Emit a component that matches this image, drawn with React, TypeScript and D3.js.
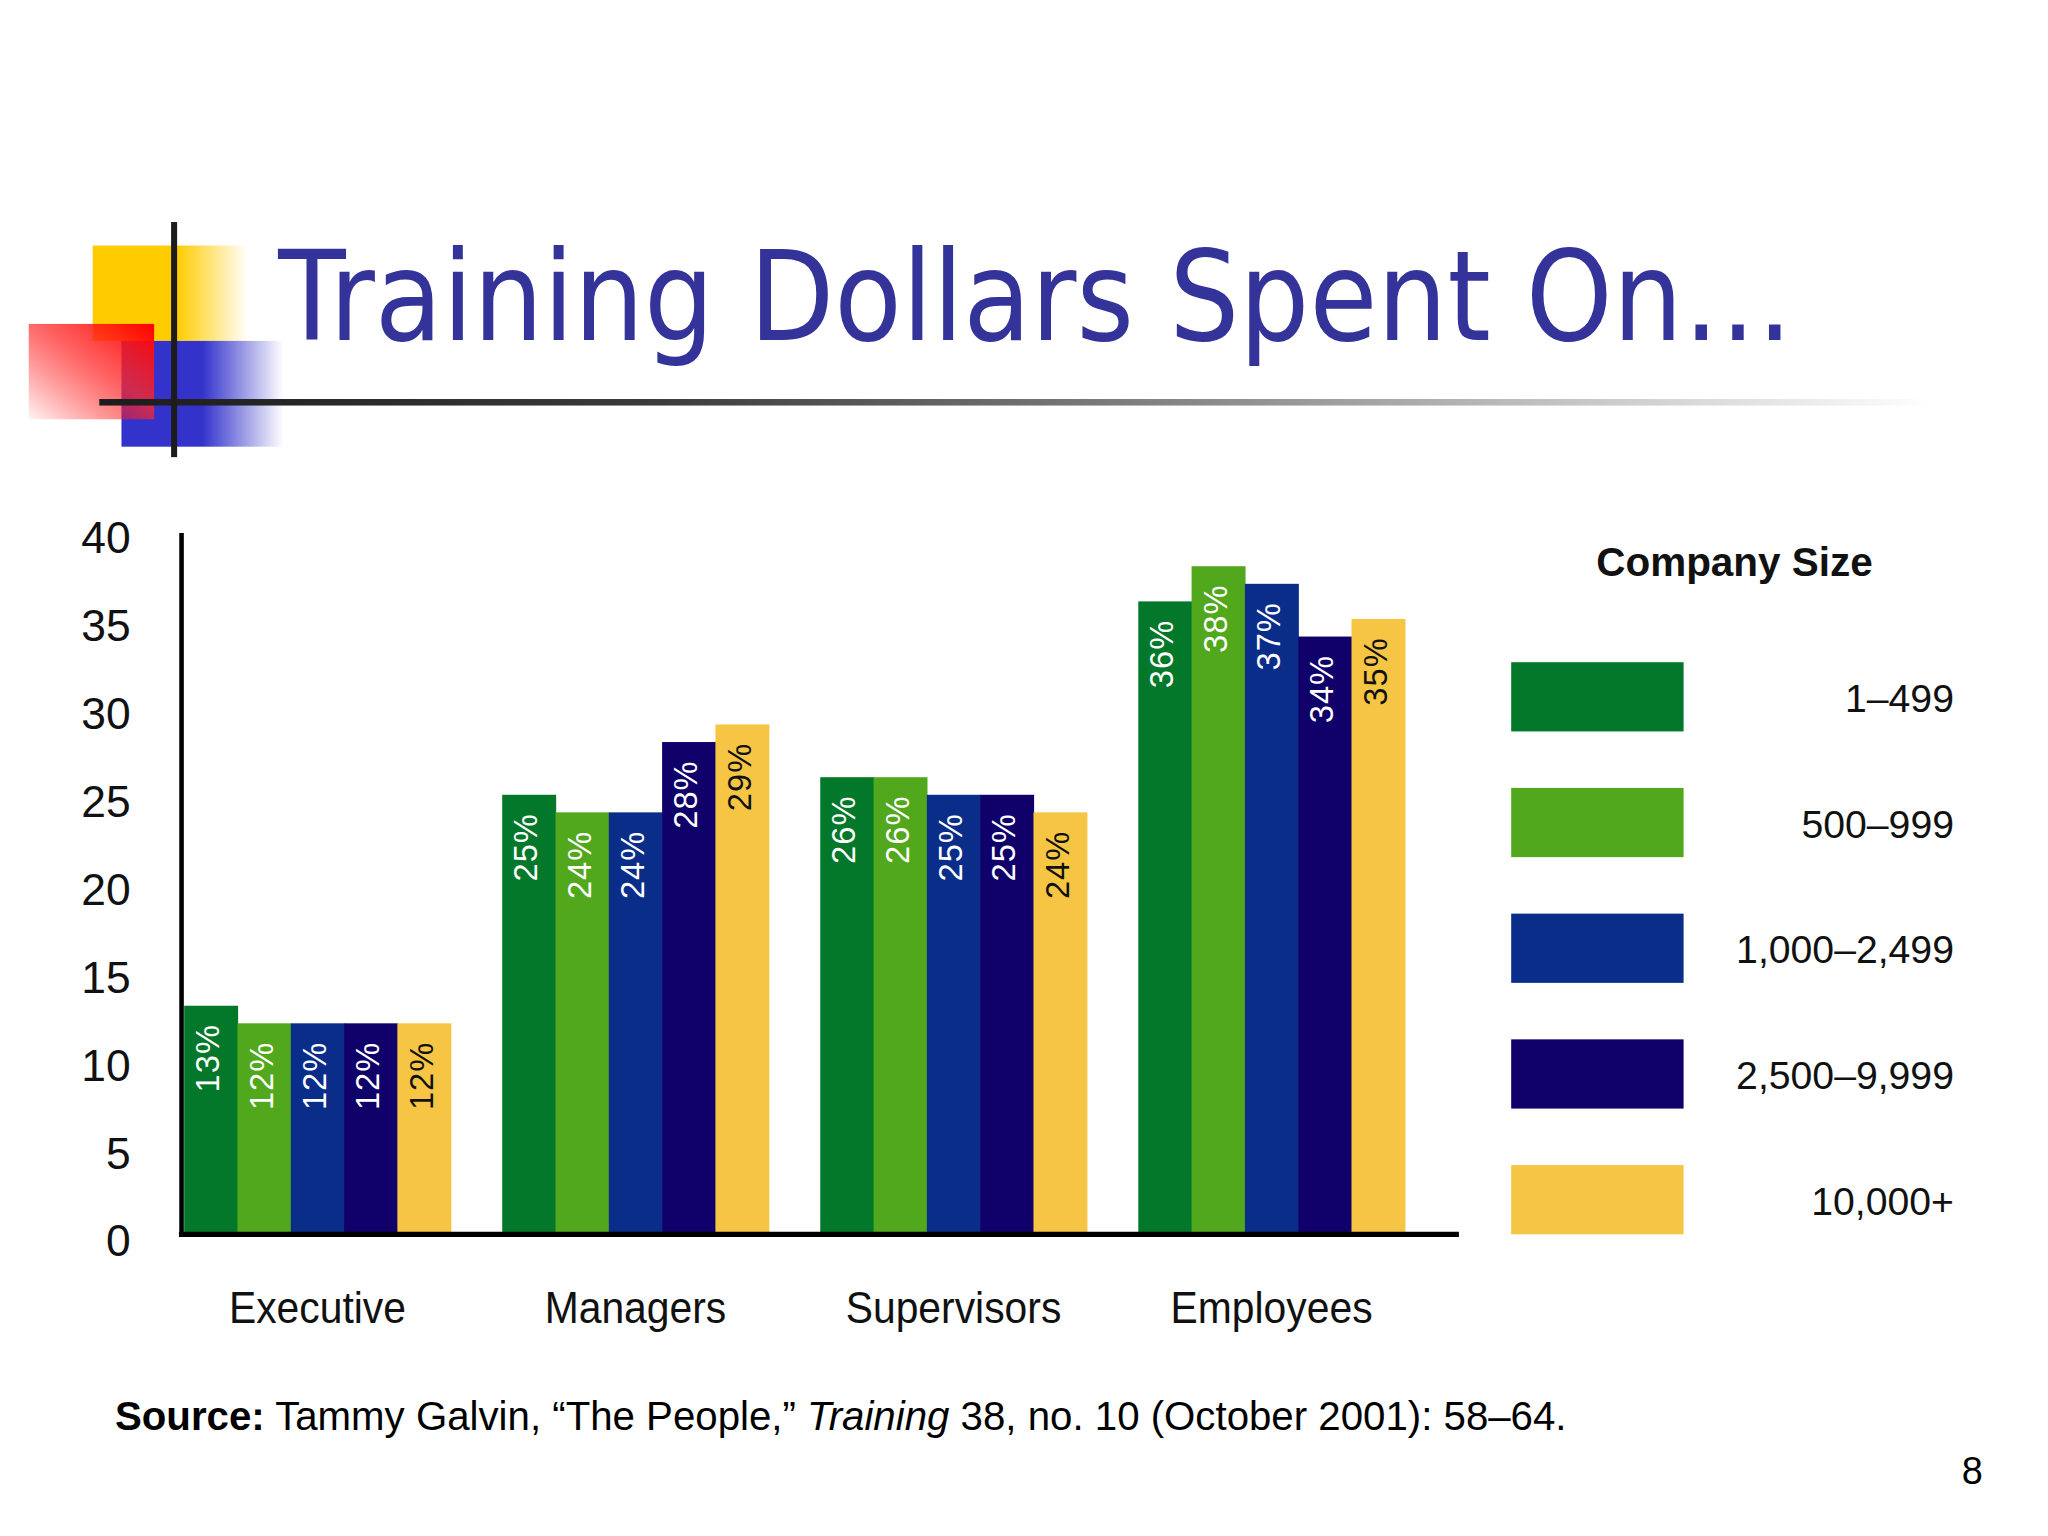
import React, { useEffect, useRef } from "react";
import * as d3 from "d3";

// categories on the x axis
const categories = ["Executive", "Managers", "Supervisors", "Employees"];

// company size groups (legend)
const sizes = ["1–499", "500–999", "1,000–2,499", "2,500–9,999", "10,000+"];

// percent of training dollars, one array per company size
const size1to499 = [13, 25, 26, 36];
const size500to999 = [12, 24, 26, 38];
const size1000to2499 = [12, 24, 25, 37];
const size2500to9999 = [12, 28, 25, 34];
const size10000plus = [12, 29, 24, 35];

const yTicks = [0, 5, 10, 15, 20, 25, 30, 35, 40];

const colors = ["#03782a", "#52a81d", "#0b2d8a", "#0f006a", "#f5c543"];
const labelColors = ["#ffffff", "#ffffff", "#ffffff", "#ffffff", "#111111"];

const Chart = () => {
  const chartRef = useRef(null);

  useEffect(() => {
    if (!chartRef.current) return;
    const svg = d3.select(chartRef.current);
    svg.selectAll("*").remove();

    const series = [size1to499, size500to999, size1000to2499, size2500to9999, size10000plus];

    // ---- defs for the slide decoration
    const defs = svg.append("defs");
    const yellow = defs.append("linearGradient").attr("id", "yel").attr("x1", 0).attr("x2", 1).attr("y1", 0).attr("y2", 0);
    yellow.append("stop").attr("offset", 0).attr("stop-color", "#ffcc00");
    yellow.append("stop").attr("offset", 0.54).attr("stop-color", "#ffcc00");
    yellow.append("stop").attr("offset", 1).attr("stop-color", "#ffcc00").attr("stop-opacity", 0);

    const blue = defs.append("linearGradient").attr("id", "blu").attr("x1", 0).attr("x2", 1).attr("y1", 0).attr("y2", 0);
    blue.append("stop").attr("offset", 0).attr("stop-color", "#3333cc");
    blue.append("stop").attr("offset", 0.5).attr("stop-color", "#3333cc");
    blue.append("stop").attr("offset", 1).attr("stop-color", "#3333cc").attr("stop-opacity", 0);

    const red = defs.append("linearGradient").attr("id", "red").attr("x1", 1).attr("y1", 0).attr("x2", 0).attr("y2", 1);
    red.append("stop").attr("offset", 0).attr("stop-color", "#ff0000");
    red.append("stop").attr("offset", 0.45).attr("stop-color", "#ff2a2a").attr("stop-opacity", 0.75);
    red.append("stop").attr("offset", 1).attr("stop-color", "#ff0000").attr("stop-opacity", 0.04);

    const rule = defs.append("linearGradient").attr("id", "rule").attr("x1", 0).attr("x2", 1).attr("y1", 0).attr("y2", 0);
    rule.append("stop").attr("offset", 0).attr("stop-color", "#1c1c1c");
    rule.append("stop").attr("offset", 0.3).attr("stop-color", "#3a3a3a");
    rule.append("stop").attr("offset", 0.55).attr("stop-color", "#7a7a7a");
    rule.append("stop").attr("offset", 0.8).attr("stop-color", "#c4c4c4");
    rule.append("stop").attr("offset", 1).attr("stop-color", "#ffffff");

    svg.append("rect").attr("width", 1568).attr("height", 1176).attr("fill", "#fff");

    // decoration squares and cross lines
    svg.append("rect").attr("x", 71).attr("y", 188).attr("width", 119).attr("height", 73).attr("fill", "url(#yel)");
    svg.append("rect").attr("x", 93).attr("y", 261).attr("width", 124).attr("height", 81).attr("fill", "url(#blu)");
    svg.append("rect").attr("x", 22).attr("y", 248).attr("width", 96).attr("height", 73).attr("fill", "url(#red)");
    svg.append("rect").attr("x", 76).attr("y", 305.5).attr("width", 1404).attr("height", 5).attr("fill", "url(#rule)");
    svg.append("rect").attr("x", 131).attr("y", 170).attr("width", 4.6).attr("height", 180).attr("fill", "#1c1c1c");

    svg.append("text")
      .attr("x", 213)
      .attr("y", 260)
      .attr("font-family", "DejaVu Sans, Verdana, sans-serif")
      .attr("font-size", 96)
      .attr("fill", "#333399")
      .attr("textLength", 1160)
      .attr("lengthAdjust", "spacingAndGlyphs")
      .text("Training Dollars Spent On…");

    // ---- chart
    const x0 = d3.scaleBand().domain(categories).range([141, 1115]).paddingInner(0.162).paddingOuter(0.081).align(0);
    const x1 = d3.scaleBand().domain(sizes).range([0, x0.bandwidth()]);
    const y = d3.scaleLinear().domain([0, 40]).range([945, 406.6]);

    const font = "Liberation Sans, Arial, Helvetica, sans-serif";

    const groups = svg.selectAll(".grp")
      .data(categories)
      .enter()
      .append("g")
      .attr("class", "grp")
      .attr("transform", (d) => `translate(${x0(d)},0)`);

    groups.each(function (cat, ci) {
      const g = d3.select(this);
      const vals = sizes.map((s, si) => ({ s, si, v: series[si][ci] }));
      g.selectAll("rect")
        .data(vals)
        .enter()
        .append("rect")
        .attr("x", (d) => x1(d.s) as any)
        .attr("y", (d) => y(d.v))
        .attr("width", x1.bandwidth() + 0.5)
        .attr("height", (d) => y(0) - y(d.v))
        .attr("fill", (d) => colors[d.si]);
      g.selectAll("text")
        .data(vals)
        .enter()
        .append("text")
        .attr("transform", (d) => `translate(${(x1(d.s) as any) + x1.bandwidth() / 2 + 6.5},${y(d.v) + 14}) rotate(-90)`)
        .attr("text-anchor", "end")
        .attr("font-family", font)
        .attr("font-size", 25)
        .attr("letter-spacing", 0.8)
        .attr("fill", (d) => labelColors[d.si])
        .text((d) => `${d.v}%`);
    });

    // axes
    svg.append("line").attr("x1", 139).attr("x2", 139).attr("y1", 408).attr("y2", 947).attr("stroke", "#000").attr("stroke-width", 3.5);
    svg.append("line").attr("x1", 137).attr("x2", 1117).attr("y1", 945).attr("y2", 945).attr("stroke", "#000").attr("stroke-width", 4);

    svg.selectAll(".ytick")
      .data(yTicks)
      .enter()
      .append("text")
      .attr("class", "ytick")
      .attr("x", 100)
      .attr("y", (d) => y(d) + 17)
      .attr("text-anchor", "end")
      .attr("font-family", font)
      .attr("font-size", 34)
      .attr("fill", "#111")
      .text((d) => d);

    svg.selectAll(".xlab")
      .data(categories)
      .enter()
      .append("text")
      .attr("class", "xlab")
      .attr("transform", (d) => `translate(${(x0(d) as any) + x0.bandwidth() / 2},1013) scale(0.92,1)`)
      .attr("text-anchor", "middle")
      .attr("font-family", font)
      .attr("font-size", 34)
      .attr("fill", "#111")
      .text((d) => d);

    // legend
    const ly = d3.scalePoint().domain(sizes).range([507, 892]);
    svg.append("text")
      .attr("x", 1328)
      .attr("y", 441)
      .attr("text-anchor", "middle")
      .attr("font-family", font)
      .attr("font-weight", "bold")
      .attr("font-size", 31)
      .attr("fill", "#111")
      .text("Company Size");
    const leg = svg.selectAll(".leg")
      .data(sizes)
      .enter()
      .append("g")
      .attr("class", "leg")
      .attr("transform", (d) => `translate(0,${ly(d)})`);
    leg.append("rect").attr("x", 1157).attr("y", 0).attr("width", 132).attr("height", 53).attr("fill", (d, i) => colors[i]);
    leg.append("text")
      .attr("x", 1496)
      .attr("y", 38)
      .attr("text-anchor", "end")
      .attr("font-family", font)
      .attr("font-size", 30)
      .attr("fill", "#111")
      .text((d) => d);

    // source line
    const src = svg.append("text").attr("x", 88).attr("y", 1095).attr("font-family", font).attr("font-size", 30.8).attr("fill", "#000");
    src.append("tspan").attr("font-weight", "bold").text("Source:");
    src.append("tspan").text(" Tammy Galvin, “The People,” ");
    src.append("tspan").attr("font-style", "italic").text("Training");
    src.append("tspan").text(" 38, no. 10 (October 2001): 58–64.");

    svg.append("text").attr("x", 1518).attr("y", 1136).attr("text-anchor", "end").attr("font-family", font).attr("font-size", 29).attr("fill", "#000").text("8");
  }, []);

  return (
    <svg
      ref={chartRef}
      width="2048"
      height="1536"
      viewBox="0 0 1568 1176"
      style={{ position: "absolute", left: 0, top: 0, display: "block" }}
    ></svg>
  );
};

function App() {
  return (
    <div>
      <Chart />
    </div>
  );
}

export default App;
